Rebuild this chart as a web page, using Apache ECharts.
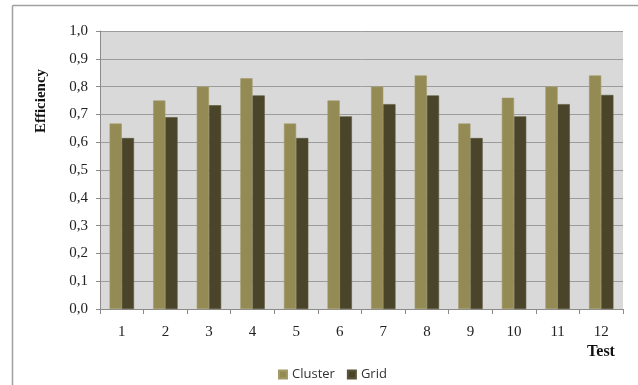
<!DOCTYPE html>
<html>
<head>
<meta charset="utf-8">
<script src="https://cdn.jsdelivr.net/npm/echarts@6/dist/echarts.min.js"></script>
<style>
  html, body { margin: 0; padding: 0; background: #fff; }
  #chart { width: 638px; height: 385px; }
</style>
</head>
<body>
<div id="chart"></div>
<script>
// Test runs on the x axis
const tests = ['1', '2', '3', '4', '5', '6', '7', '8', '9', '10', '11', '12'];
// Efficiency per test
const cluster = [0.667, 0.75, 0.80, 0.83, 0.667, 0.75, 0.80, 0.84, 0.667, 0.76, 0.80, 0.84];
const grid = [0.615, 0.69, 0.733, 0.768, 0.615, 0.693, 0.737, 0.768, 0.615, 0.693, 0.737, 0.77];
const seriesNames = ['Cluster', 'Grid'];
const yTitle = 'Efficiency';
const xTitle = 'Test';

const serif = '"Liberation Serif", "DejaVu Serif", serif';
const chart = echarts.init(document.getElementById('chart'), null, { renderer: 'canvas' });

chart.setOption({
  animation: false,
  backgroundColor: '#ffffff',
  grid: {
    left: 100, right: 15, top: 31, bottom: 76,
    show: true, backgroundColor: '#D9D9D9', borderWidth: 0
  },
  legend: {
    data: seriesNames,
    left: 273, top: 363,
    icon: 'rect', itemWidth: 8, itemHeight: 8, itemGap: 12,
    textStyle: { fontFamily: '"Open Sans", "Liberation Sans", sans-serif', fontSize: 13, color: '#333' }
  },
  xAxis: {
    type: 'category',
    data: tests,
    boundaryGap: true,
    axisLine: { lineStyle: { color: '#8c8c8c', width: 1 } },
    axisTick: { show: true, length: 5, lineStyle: { color: '#8c8c8c' } },
    axisLabel: { margin: 16, fontFamily: serif, fontSize: 15, color: '#222' },
    splitLine: { show: false }
  },
  yAxis: {
    type: 'value',
    min: 0, max: 1, interval: 0.1,
    axisLine: { show: true, lineStyle: { color: '#8c8c8c', width: 1 } },
    axisTick: { show: true, length: 4, lineStyle: { color: '#8c8c8c' } },
    axisLabel: {
      margin: 12, fontFamily: serif, fontSize: 15, color: '#222',
      formatter: v => v.toFixed(1).replace('.', ',')
    },
    splitLine: { show: true, lineStyle: { color: '#9c9c9c', width: 1 } }
  },
  series: [
    {
      name: seriesNames[0], type: 'bar', data: cluster,
      barGap: '0%', barCategoryGap: '44%',
      itemStyle: { color: '#948A54', borderColor: '#A39A68', borderWidth: 0.6 }
    },
    {
      name: seriesNames[1], type: 'bar', data: grid,
      barGap: '0%', barCategoryGap: '44%',
      itemStyle: { color: '#4A452A', borderColor: '#5a5538', borderWidth: 0.6 }
    }
  ],
  graphic: [
    // frame edges along the top and left
    { type: 'line', shape: { x1: 12.5, y1: 5.5, x2: 638, y2: 5.5 }, style: { stroke: '#a0a0a0', lineWidth: 1.5 } },
    { type: 'line', shape: { x1: 12.5, y1: 5.5, x2: 12.5, y2: 385 }, style: { stroke: '#a0a0a0', lineWidth: 1.5 } },
    {
      type: 'text', x: 41, y: 101, rotation: Math.PI / 2,
      style: { text: yTitle, font: 'bold 15px ' + serif, fill: '#111', align: 'center', verticalAlign: 'middle' }
    },
    {
      type: 'text', x: 601, y: 352,
      style: { text: xTitle, font: 'bold 16px ' + serif, fill: '#111', align: 'center', verticalAlign: 'middle' }
    }
  ]
});
</script>
</body>
</html>
